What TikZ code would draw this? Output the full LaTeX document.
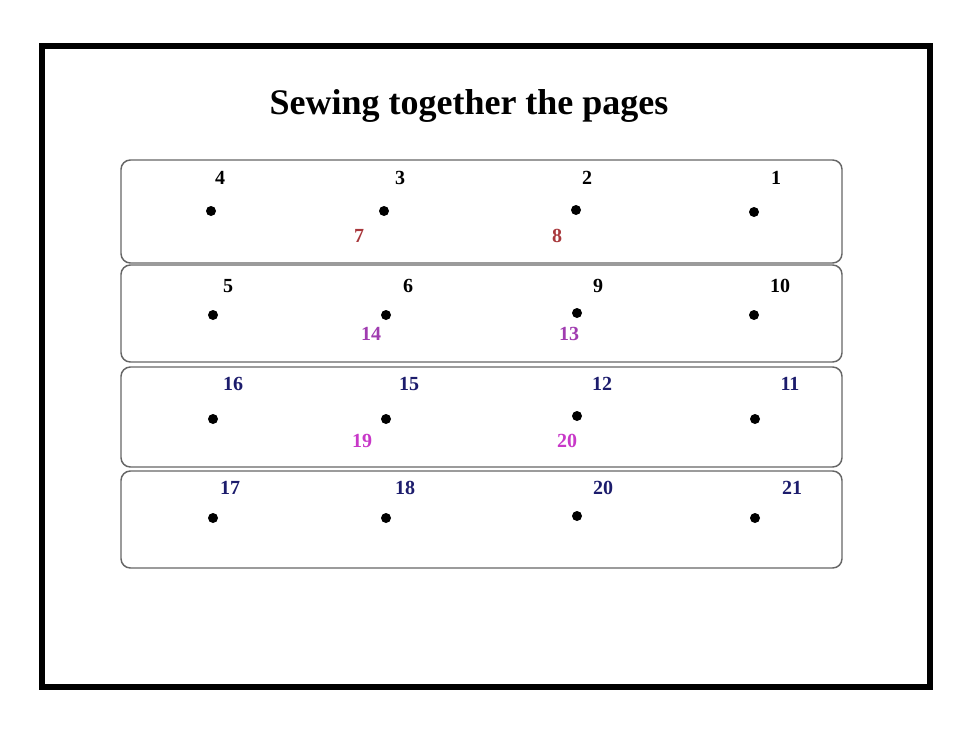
\documentclass[tikz,border=0pt]{standalone}
\usepackage{fontspec}
\setmainfont{Liberation Serif}
\usetikzlibrary{positioning}

\definecolor{holered}{HTML}{A8383C}
\definecolor{holepurple}{HTML}{A03CB0}
\definecolor{holepink}{HTML}{C838C8}
\definecolor{holenavy}{HTML}{1C1C6C}

\tikzset{
  pagebox/.style={draw=black!60, line width=1.1pt, rounded corners=7pt},
  hole/.style={circle, fill=black, inner sep=0pt, minimum size=7.5pt},
  num/.style={font=\fontsize{15}{15}\selectfont\bfseries, inner sep=0pt},
}

\begin{document}
\begin{tikzpicture}[x=0.75pt,y=-0.75pt]
        \useasboundingbox (0,0) rectangle (980,735);
        %% Frame and title
        \draw[line width=4.2pt] (42,46) rectangle (930,687);
        \node[font=\fontsize{27}{27}\selectfont\bfseries] (title) at (469,106) {Sewing together the pages};

        %% Pages
        \draw[pagebox] (121,160) rectangle (842,263);
        \draw[pagebox] (121,265) rectangle (842,362);
        \draw[pagebox] (121,367) rectangle (842,467);
        \draw[pagebox] (121,471) rectangle (842,568);

        %% First row
        \node[hole] (h4) at (211,211) {};
        \node[hole] (h3) at (384,211) {};
        \node[hole] (h2) at (576,210) {};
        \node[hole] (h1) at (754,212) {};
        \node[num] (n4) at (220,178) {4};
        \node[num] (n3) at (400,178) {3};
        \node[num] (n2) at (587,178) {2};
        \node[num] (n1) at (776,178) {1};
        \node[num,holered] (n7) at (359,236) {7};
        \node[num,holered] (n8) at (557,236) {8};

        %% Second row
        \node[hole] (h5) at (213,315) {};
        \node[hole] (h6) at (386,315) {};
        \node[hole] (h9) at (577,313) {};
        \node[hole] (h10) at (754,315) {};
        \node[num] (n5) at (228,286) {5};
        \node[num] (n6) at (408,286) {6};
        \node[num] (n9) at (598,286) {9};
        \node[num] (n10) at (780,286) {10};
        \node[num,holepurple] (n14) at (371,334) {14};
        \node[num,holepurple] (n13) at (569,334) {13};

        %% Third row
        \node[hole] (h16) at (213,419) {};
        \node[hole] (h15) at (386,419) {};
        \node[hole] (h12) at (577,416) {};
        \node[hole] (h11) at (755,419) {};
        \node[num,holenavy] (n16) at (233,384) {16};
        \node[num,holenavy] (n15) at (409,384) {15};
        \node[num,holenavy] (n12) at (602,384) {12};
        \node[num,holenavy] (n11) at (790,384) {11};
        \node[num,holepink] (n19) at (362,441) {19};
        \node[num,holepink] (n20a) at (567,441) {20};

        %% Fourth row
        \node[hole] (h17) at (213,518) {};
        \node[hole] (h18) at (386,518) {};
        \node[hole] (h20) at (577,516) {};
        \node[hole] (h21) at (755,518) {};
        \node[num,holenavy] (n17) at (230,488) {17};
        \node[num,holenavy] (n18) at (405,488) {18};
        \node[num,holenavy] (n20) at (603,488) {20};
        \node[num,holenavy] (n21) at (792,488) {21};
    \end{tikzpicture}
\end{document}
